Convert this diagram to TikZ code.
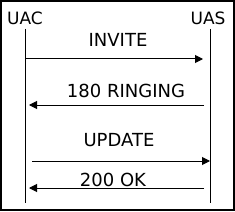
\documentclass[tikz,border=0pt]{standalone}
\usepackage{fontspec}
\setmainfont{DejaVu Sans}
\usetikzlibrary{arrows.meta}
\tikzstyle{party}=[inner sep=0, font=\fontsize{17}{20}\selectfont]
\tikzstyle{msg}=[inner sep=0, font=\fontsize{18}{21}\selectfont]
\tikzstyle{life}=[line width=1pt]
\tikzstyle{call}=[line width=1pt, -{Triangle[length=8pt,width=8pt]}]

\begin{document}
\begin{tikzpicture}[x=1pt,y=-1pt]
\useasboundingbox (0,0) rectangle (235,211);
\draw[line width=1.5pt] (1,1) rectangle (234,210);
\node at (25,18) [party](uac){UAC};
\node at (208,18) [party](uas){UAS};
\coordinate (uactop) at (25,29);
\coordinate (uacbot) at (25,203);
\coordinate (uastop) at (210,29);
\coordinate (uasbot) at (210,203);
\draw[life] (uactop)--(uacbot);
\draw[life] (uastop)--(uasbot);
\coordinate (a1) at (25,59);
\coordinate (b1) at (203,59);
\coordinate (a2) at (204,105);
\coordinate (b2) at (29,105);
\coordinate (a3) at (32,161);
\coordinate (b3) at (210,161);
\coordinate (a4) at (204,188);
\coordinate (b4) at (29,188);
\draw[call] (a1)--(b1);
\draw[call] (a2)--(b2);
\draw[call] (a3)--(b3);
\draw[call] (a4)--(b4);
\node at (118,40) [msg](invite){INVITE};
\node at (126,91) [msg](ringing){180 RINGING};
\node at (119,140) [msg](update){UPDATE};
\node at (113,180) [msg](ok){200 OK};
\end{tikzpicture}
\end{document}
